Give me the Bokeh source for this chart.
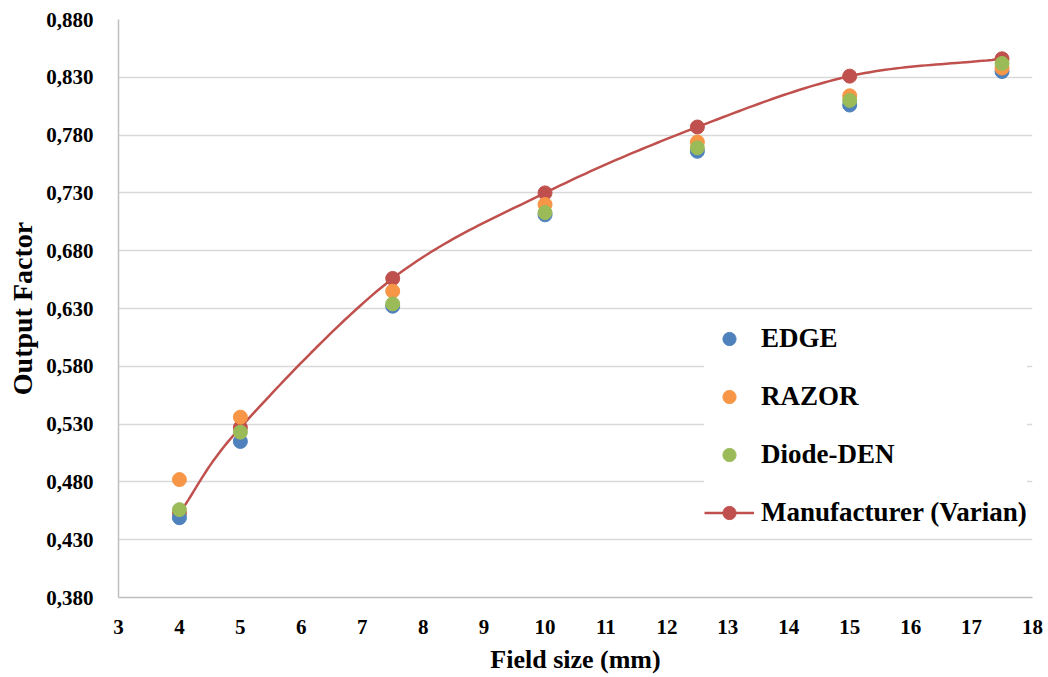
import numpy as np
from bokeh.plotting import figure
from bokeh.models import (Range1d, FixedTicker, CustomJSTickFormatter, Legend, LegendItem)
from bokeh.embed import file_html
from bokeh.resources import INLINE

field_size = [4, 5, 7.5, 10, 12.5, 15, 17.5]
edge = [0.449, 0.515, 0.632, 0.711, 0.766, 0.806, 0.835]
razor = [0.482, 0.536, 0.645, 0.720, 0.774, 0.814, 0.838]
diode_den = [0.456, 0.523, 0.634, 0.713, 0.769, 0.810, 0.842]
manufacturer = [0.453, 0.527, 0.656, 0.730, 0.787, 0.831, 0.846]
y_ticks = [0.38, 0.43, 0.48, 0.53, 0.58, 0.63, 0.68, 0.73, 0.78, 0.83, 0.88]
x_ticks = list(range(3, 19))

FONT = "Liberation Serif"


def catmull_rom(xs, ys, n=30):
    xs = np.asarray(xs, float)
    ys = np.asarray(ys, float)
    px = np.concatenate([[2 * xs[0] - xs[1]], xs, [2 * xs[-1] - xs[-2]]])
    py = np.concatenate([[2 * ys[0] - ys[1]], ys, [2 * ys[-1] - ys[-2]]])
    ox, oy = [], []
    for i in range(1, len(px) - 2):
        t = np.linspace(0, 1, n, endpoint=False)
        for arr, out in ((px, ox), (py, oy)):
            p0, p1, p2, p3 = arr[i - 1], arr[i], arr[i + 1], arr[i + 2]
            out.extend(0.5 * ((2 * p1) + (-p0 + p2) * t
                              + (2 * p0 - 5 * p1 + 4 * p2 - p3) * t ** 2
                              + (-p0 + 3 * p1 - 3 * p2 + p3) * t ** 3))
    ox.append(xs[-1])
    oy.append(ys[-1])
    return ox, oy


p = figure(width=1046, height=677, output_backend="svg", toolbar_location=None,
           x_range=Range1d(3, 18), y_range=Range1d(0.38, 0.88),
           min_border_left=118, min_border_right=14, min_border_top=19, min_border_bottom=80)
p.outline_line_color = None
p.background_fill_color = "white"
p.border_fill_color = "white"

p.xgrid.grid_line_color = None
p.ygrid.grid_line_color = "#d9d9d9"
p.ygrid.grid_line_width = 1.5
p.yaxis.ticker = FixedTicker(ticks=y_ticks)
p.xaxis.ticker = FixedTicker(ticks=x_ticks)
p.yaxis.formatter = CustomJSTickFormatter(code="return tick.toFixed(3).replace('.', ',');")

for ax in (p.xaxis[0], p.yaxis[0]):
    ax.axis_line_color = "#bfbfbf"
    ax.axis_line_width = 1.5
    ax.major_tick_line_color = None
    ax.minor_tick_line_color = None
    ax.major_label_text_font = FONT
    ax.major_label_text_font_style = "bold"
    ax.major_label_text_font_size = "21px"
    ax.major_label_text_color = "#000000"
    ax.axis_label_text_font = FONT
    ax.axis_label_text_font_style = "bold"
    ax.axis_label_text_color = "#000000"

p.xaxis.axis_label = "Field size (mm)"
p.yaxis.axis_label = "Output Factor"
p.xaxis.axis_label_text_font_size = "26px"
p.yaxis.axis_label_text_font_size = "28px"
p.xaxis.major_label_standoff = 16
p.yaxis.major_label_standoff = 19
p.xaxis.axis_label_standoff = 8
p.yaxis.axis_label_standoff = 5

sx, sy = catmull_rom(field_size, manufacturer)
man_line = p.line(sx, sy, line_color="#c0504d", line_width=2.5)
man_pts = p.scatter(field_size, manufacturer, size=14, fill_color="#c0504d", line_color="#c0504d")
r_edge = p.scatter(field_size, edge, size=14, fill_color="#4f81bd", line_color="#4f81bd")
r_razor = p.scatter(field_size, razor, size=14, fill_color="#f79646", line_color="#f79646")
r_diode = p.scatter(field_size, diode_den, size=14, fill_color="#9bbb59", line_color="#9bbb59")

legend = Legend(items=[
    LegendItem(label="EDGE", renderers=[r_edge]),
    LegendItem(label="RAZOR", renderers=[r_razor]),
    LegendItem(label="Diode-DEN", renderers=[r_diode]),
    LegendItem(label="Manufacturer (Varian)", renderers=[man_line, man_pts]),
], location=(586, 68))
legend.background_fill_color = "white"
legend.background_fill_alpha = 1.0
legend.border_line_color = None
legend.label_text_font = FONT
legend.label_text_font_style = "bold"
legend.label_text_font_size = "27px"
legend.label_text_color = "#000000"
legend.glyph_width = 50
legend.glyph_height = 33
legend.label_height = 33
legend.spacing = 25
legend.padding = 8
legend.margin = 0
legend.label_standoff = 7
p.add_layout(legend, "center")

open("out.html", "w").write(file_html(p, INLINE))
